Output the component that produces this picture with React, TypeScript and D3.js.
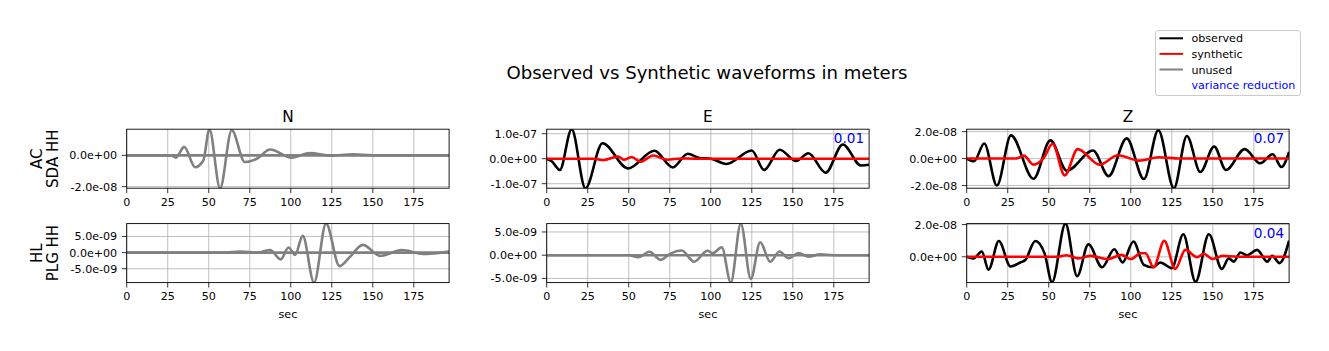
import React from "react";
import * as d3 from "d3";

const W = 1329;
const H = 351;
const FONT = "DejaVu Sans, Liberation Sans, sans-serif";

// time axis (seconds) shared by every panel
const timeRange: [number, number] = [0, 196.5];
const xTicks = [0, 25, 50, 75, 100, 125, 150, 175];
const components = ["N", "E", "Z"];
const stationLabels = [
  ["AC", "SDA HH"],
  ["HL", "PLG HH"],
];

// waveforms: [seconds, displacement in nanometres]
const sdaN_obs: [number, number][] = [
  [0, 0], [27, 0], [30, -1.5], [35, 5.4], [41.7, -7.6], [46.7, -3.3], [50.4, 16.7],
  [56.9, -21], [64, 16], [72, -4.3], [79.3, -2.2], [87.4, 3.7], [100.6, -1.5],
  [111.8, 1.5], [124, -0.2], [138, 0.6], [150, 0], [196.5, 0],
];
const sdaN_syn: [number, number][] = [[0, 0], [196.5, 0]];

const sdaE_obs: [number, number][] = [
  [0, 0], [3, -10], [8, -45], [15.2, 118], [23.6, -118], [34, 62], [49.5, -39],
  [65.7, 32], [76.8, -35], [86, 20], [93, 3], [100, 0], [109.5, -21], [125, 33],
  [132.5, -45], [142, 36], [152, -9], [159.5, 22], [170, -56], [180.5, 57],
  [191.5, -27], [196.5, -24],
];
const sdaE_syn: [number, number][] = [
  [0, 0], [29, 0], [34.5, -6], [43.5, 9], [47, -4], [51.8, 7], [57, -12], [65, 13],
  [73.5, -4], [82, 1], [90, 0], [196.5, 0],
];

const sdaZ_obs: [number, number][] = [
  [0, 0], [4.5, -2], [10.7, 11.2], [18.4, -20], [27, 17.2], [40.7, -15], [51, 13.5],
  [61, -9], [77, 6], [86.5, -13], [97.5, 15], [108, -15.2], [116.8, 21], [126.3, -22],
  [134.2, 16.8], [142.4, -10], [150.8, 9], [158, -8.5], [169.5, 7], [178.8, -3.5],
  [186.5, 3.2], [191.8, -6.3], [196.5, 5],
];
const sdaZ_syn: [number, number][] = [
  [0, 0], [30, 0], [34.8, 2.2], [40.6, -4.5], [47, 0.5], [52.3, 11], [59.8, -12.5],
  [67.6, 7], [81, -4.5], [92.2, 2.5], [105, -1.5], [117, 1], [130, 0], [196.5, 0],
];

const plgN_obs: [number, number][] = [
  [0, 0], [60, 0], [69, 0.3], [80, 0], [87.4, 0.8], [93.9, -2.1], [98.6, 1.6],
  [102.6, -0.7], [107.3, 5.2], [114.2, -9.3], [121.5, 9.0], [129.7, -4.2],
  [136.2, -1.25], [143.9, 2.4], [154.5, -1.0], [167.7, 0.8], [180.9, -0.4], [196.5, 0.3],
];
const plgN_syn: [number, number][] = [[0, 0], [196.5, 0]];

const plgE_obs: [number, number][] = [
  [0, 0], [50, 0], [55.9, -0.44], [62.6, 0.74], [69.5, -1.0], [75.2, 0.3], [82.3, 1.0],
  [89.8, -1.4], [98, 0.95], [101.2, 0.44], [106.7, 1.7], [112.2, -5.9], [118.3, 6.8],
  [124.4, -5.1], [130.1, 2.8], [136.2, -1.4], [141.9, 0.8], [147.4, -0.66],
  [153.5, 0.44], [159.6, -0.3], [166.7, 0.2], [175, 0], [196.5, 0],
];
const plgE_syn: [number, number][] = [[0, 0], [196.5, 0]];

const plgZ_obs: [number, number][] = [
  [0, 0], [4.1, -1], [9.2, 3.3], [13.3, -8], [19.6, 9.8], [26.7, -6], [32.7, -3.5],
  [35.7, -2], [41.8, 9.8], [47.5, 2], [52, -15.8], [60.2, 20.6], [67.3, -12],
  [74.2, 7.8], [82.5, -6.5], [90, 4.7], [95, -3.5], [101.6, 9.5], [108, -5],
  [113.5, -6.5], [118, -3.5], [125, -7], [132, 14], [139.5, -15.5], [147.6, 14],
  [155.5, -7.5], [159.7, -1], [162.8, -3], [166.8, 2.7], [170.9, 1], [177, 4.3],
  [183.2, -3], [186.2, 0.6], [190.7, -3.9], [196.5, 10],
];
const plgZ_syn: [number, number][] = [
  [0, 0], [55, 0], [61, 1], [68, -1], [75.5, 0.6], [86, -1.4], [94.3, 1.2], [100, -1.4],
  [106, 2.2], [109, 2.2], [113.9, -6.5], [120.4, 10], [127.1, -7.5], [133.3, 4.3],
  [140.4, -0.2], [144.5, 1.8], [150, -1.4], [156, 0.6], [165, 0], [196.5, 0],
];

// y limits and ticks (nm) per panel, row-major
const yLimits: [number, number][] = [
  [-21, 16.7], [-118, 118], [-22, 21.8],
  [-9.3, 9.0], [-5.9, 6.8], [-16, 20.6],
];
const yTicks = [
  [-20, 0], [-100, 0, 100], [-20, 0, 20],
  [-5, 0, 5], [-5, 0, 5], [0, 20],
];
const varianceReduction = [null, "0.01", "0.07", null, null, "0.04"];
const used = [false, true, true, false, false, true];
const observed = [sdaN_obs, sdaE_obs, sdaZ_obs, plgN_obs, plgE_obs, plgZ_obs];
const synthetic = [sdaN_syn, sdaE_syn, sdaZ_syn, plgN_syn, plgE_syn, plgZ_syn];

const legendItems = [
  { label: "observed", color: "#000000" },
  { label: "synthetic", color: "#ff0000" },
  { label: "unused", color: "#808080" },
];

const COL_LEFT = [126.7, 546.7, 966.7];
const ROW_TOP = [129.2, 223.6];
const AX_W = 322.4;
const AX_H = 59;

const fmtExp = (nm: number) => {
  const s = (nm * 1e-9).toExponential(1);
  const [m, e] = s.split("e");
  const sign = e[0] === "-" ? "-" : "+";
  return `${m}e${sign}${e.replace(/[+-]/, "").padStart(2, "0")}`;
};

const Panel: React.FC<{ idx: number }> = ({ idx }) => {
  const row = Math.floor(idx / 3);
  const col = idx % 3;
  const left = COL_LEFT[col];
  const top = ROW_TOP[row];
  const x = d3.scaleLinear().domain(timeRange).range([left, left + AX_W]);
  const y = d3.scaleLinear().domain(yLimits[idx]).range([top + AX_H, top]);
  const line = d3
    .line<[number, number]>()
    .x((d) => x(d[0]))
    .y((d) => y(d[1]))
    .curve(d3.curveMonotoneX);
  const clipId = `clip-${idx}`;
  const obsColor = used[idx] ? "#000000" : "#808080";
  const synColor = used[idx] ? "#ff0000" : "#808080";

  return (
    <g>
      <defs>
        <clipPath id={clipId}>
          <rect x={left} y={top} width={AX_W} height={AX_H} />
        </clipPath>
      </defs>
      {/* grid */}
      {xTicks.map((t) => (
        <line key={`gx${t}`} x1={x(t)} x2={x(t)} y1={top} y2={top + AX_H} stroke="#b0b0b0" strokeWidth={0.8} />
      ))}
      {yTicks[idx].map((t) => (
        <line key={`gy${t}`} x1={left} x2={left + AX_W} y1={y(t)} y2={y(t)} stroke="#b0b0b0" strokeWidth={0.8} />
      ))}
      <g clipPath={`url(#${clipId})`}>
        <path d={line(observed[idx]) || ""} fill="none" stroke={obsColor} strokeWidth={2.6} />
        <path d={line(synthetic[idx]) || ""} fill="none" stroke={synColor} strokeWidth={2.6} />
      </g>
      <rect x={left} y={top} width={AX_W} height={AX_H} fill="none" stroke="#000" strokeWidth={0.9} />
      {/* x ticks */}
      {xTicks.map((t) => (
        <g key={`tx${t}`}>
          <line x1={x(t)} x2={x(t)} y1={top + AX_H} y2={top + AX_H + 4.9} stroke="#000" strokeWidth={0.8} />
          <text x={x(t)} y={top + AX_H + 17.6} textAnchor="middle" fontSize={11.1} fontFamily={FONT} fill="#000">
            {t}
          </text>
        </g>
      ))}
      {/* y ticks */}
      {yTicks[idx].map((t) => (
        <g key={`ty${t}`}>
          <line x1={left - 4.9} x2={left} y1={y(t)} y2={y(t)} stroke="#000" strokeWidth={0.8} />
          <text x={left - 9.5} y={y(t) + 4} textAnchor="end" fontSize={11.1} fontFamily={FONT} fill="#000">
            {fmtExp(t)}
          </text>
        </g>
      ))}
      {row === 0 && (
        <text x={left + AX_W / 2} y={top - 7} textAnchor="middle" fontSize={15.3} fontFamily={FONT} fill="#000">
          {components[col]}
        </text>
      )}
      {row === 1 && (
        <text x={left + AX_W / 2} y={top + AX_H + 35} textAnchor="middle" fontSize={11.1} fontFamily={FONT} fill="#000">
          sec
        </text>
      )}
      {varianceReduction[idx] && (
        <text x={left + AX_W - 5} y={top + 14} textAnchor="end" fontSize={13.6} fontFamily={FONT} fill="#0000ff">
          {varianceReduction[idx]}
        </text>
      )}
    </g>
  );
};

export default function App() {
  return (
    <svg
      width={W}
      height={H}
      viewBox={`0 0 ${W} ${H}`}
      style={{ position: "absolute", left: 0, top: 0, background: "#fff" }}
    >
      <rect x={0} y={0} width={W} height={H} fill="#fff" />
      <text x={707} y={78.5} textAnchor="middle" fontSize={18.1} fontFamily={FONT} fill="#000">
        Observed vs Synthetic waveforms in meters
      </text>
      {stationLabels.map((lines, r) => {
        const cy = ROW_TOP[r] + AX_H / 2;
        return (
          <g key={r}>
            <text transform={`translate(41.5,${cy}) rotate(-90)`} textAnchor="middle" fontSize={15} fontFamily={FONT} fill="#000">
              {lines[0]}
            </text>
            <text transform={`translate(58.4,${cy}) rotate(-90)`} textAnchor="middle" fontSize={15} fontFamily={FONT} fill="#000">
              {lines[1]}
            </text>
          </g>
        );
      })}
      {d3.range(6).map((i) => (
        <Panel key={i} idx={i} />
      ))}
      {/* legend */}
      <rect x={1155.5} y={30.5} width={145} height={65} rx={2.5} fill="#fff" stroke="#cccccc" strokeWidth={1} />
      {legendItems.map((it, i) => (
        <g key={it.label}>
          <line x1={1159.5} x2={1183} y1={38.3 + i * 15.6} y2={38.3 + i * 15.6} stroke={it.color} strokeWidth={2} />
          <text x={1191.5} y={38.3 + i * 15.6 + 4} fontSize={11.1} fontFamily={FONT} fill="#000">
            {it.label}
          </text>
        </g>
      ))}
      <text x={1191.5} y={38.3 + 3 * 15.6 + 4} fontSize={11.1} fontFamily={FONT} fill="#0000ff">
        variance reduction
      </text>
    </svg>
  );
}
